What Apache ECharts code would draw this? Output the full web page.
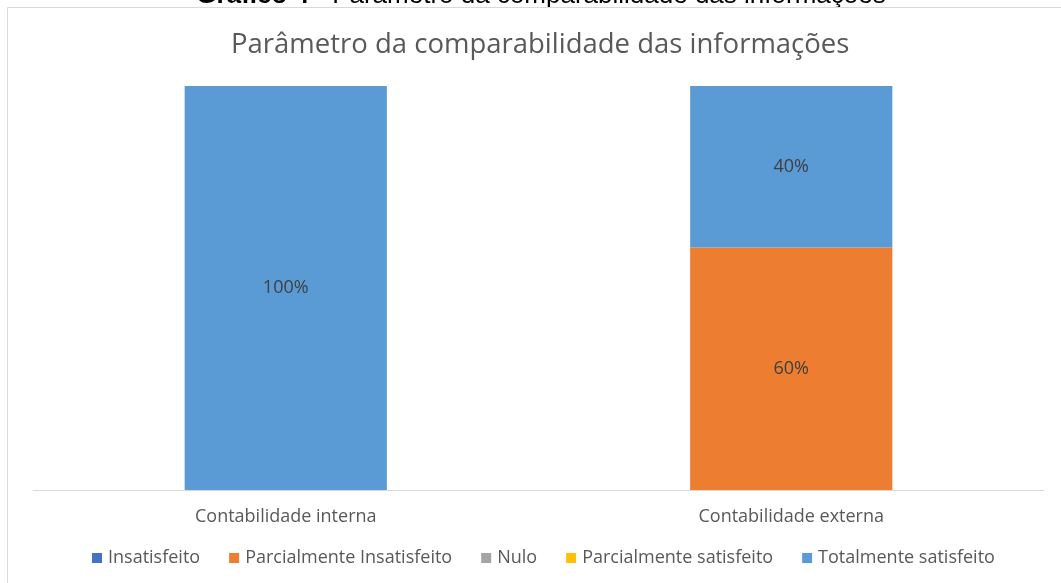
<!DOCTYPE html>
<html lang="pt">
<head>
  <meta charset="UTF-8">
  <title>Parâmetro da comparabilidade das informações</title>
  <script src="https://cdn.jsdelivr.net/npm/echarts@6/dist/echarts.min.js"></script>
  <style>
    html, body { margin: 0; padding: 0; background: #fff; }
  </style>
</head>
<body>
  <div id="chart" style="width: 1061px; height: 583px;"></div>
  <script>
    // dados do gráfico
    var categorias = ['Contabilidade interna', 'Contabilidade externa'];
    var insatisfeito = [0, 0];
    var parcialInsatisfeito = [0, 60];
    var nulo = [0, 0];
    var parcialSatisfeito = [0, 0];
    var totalSatisfeito = [100, 40];

    var fonte = '"Open Sans", Lato, sans-serif';

    function serie(nome, dados, cor) {
      return {
        name: nome,
        type: 'bar',
        stack: 'total',
        barWidth: '40%',
        data: dados,
        itemStyle: { color: cor },
        label: {
          show: true,
          position: 'inside',
          color: '#404040',
          fontFamily: fonte,
          fontSize: 18,
          formatter: function (p) { return p.value ? p.value + '%' : ''; }
        }
      };
    }

    var chart = echarts.init(document.getElementById('chart'));
    chart.setOption({
      animation: false,
      graphic: [
        {
          type: 'text',
          x: 541, y: 8.5,
          z: 1,
          style: {
            text: '{b|Gráfico 4} - Parâmetro da comparabilidade das informações',
            fill: '#000',
            font: '26px "Liberation Sans", Arial, sans-serif',
            align: 'center',
            verticalAlign: 'bottom',
            rich: { b: { fontWeight: 'bold', fontSize: 26, fontFamily: '"Liberation Sans", Arial, sans-serif' } }
          }
        },
        {
          // cobre a parte da legenda que passa abaixo da borda
          type: 'rect',
          z: 2,
          shape: { x: 0, y: 8, width: 1061, height: 6 },
          style: { fill: '#fff' }
        },
        {
          type: 'rect',
          z: 3,
          shape: { x: 7.5, y: 7.5, width: 1100, height: 600 },
          style: { fill: 'none', stroke: '#D9D9D9', lineWidth: 1 }
        }
      ],
      title: {
        text: 'Parâmetro da comparabilidade das informações',
        left: 226,
        top: 26,
        textStyle: { color: '#595959', fontFamily: fonte, fontSize: 27.5, fontWeight: 'normal' }
      },
      legend: {
        bottom: 11,
        left: 87,
        itemWidth: 10,
        itemHeight: 10,
        itemGap: 29,
        icon: 'rect',
        textStyle: { color: '#595959', fontFamily: fonte, fontSize: 18, padding: [0, 0, 0, 1] },
        data: ['Insatisfeito', 'Parcialmente Insatisfeito', 'Nulo', 'Parcialmente satisfeito', 'Totalmente satisfeito']
      },
      grid: { left: 33, right: 17, top: 86, bottom: 93 },
      xAxis: {
        type: 'category',
        data: categorias,
        axisLine: { lineStyle: { color: '#D9D9D9', width: 1 } },
        axisTick: { show: false },
        axisLabel: { color: '#595959', fontFamily: fonte, fontSize: 18, margin: 18 }
      },
      yAxis: {
        type: 'value',
        min: 0,
        max: 100,
        show: false
      },
      series: [
        serie('Insatisfeito', insatisfeito, '#4472C4'),
        serie('Parcialmente Insatisfeito', parcialInsatisfeito, '#ED7D31'),
        serie('Nulo', nulo, '#A5A5A5'),
        serie('Parcialmente satisfeito', parcialSatisfeito, '#FFC000'),
        serie('Totalmente satisfeito', totalSatisfeito, '#5B9BD5')
      ]
    });
  </script>
</body>
</html>
